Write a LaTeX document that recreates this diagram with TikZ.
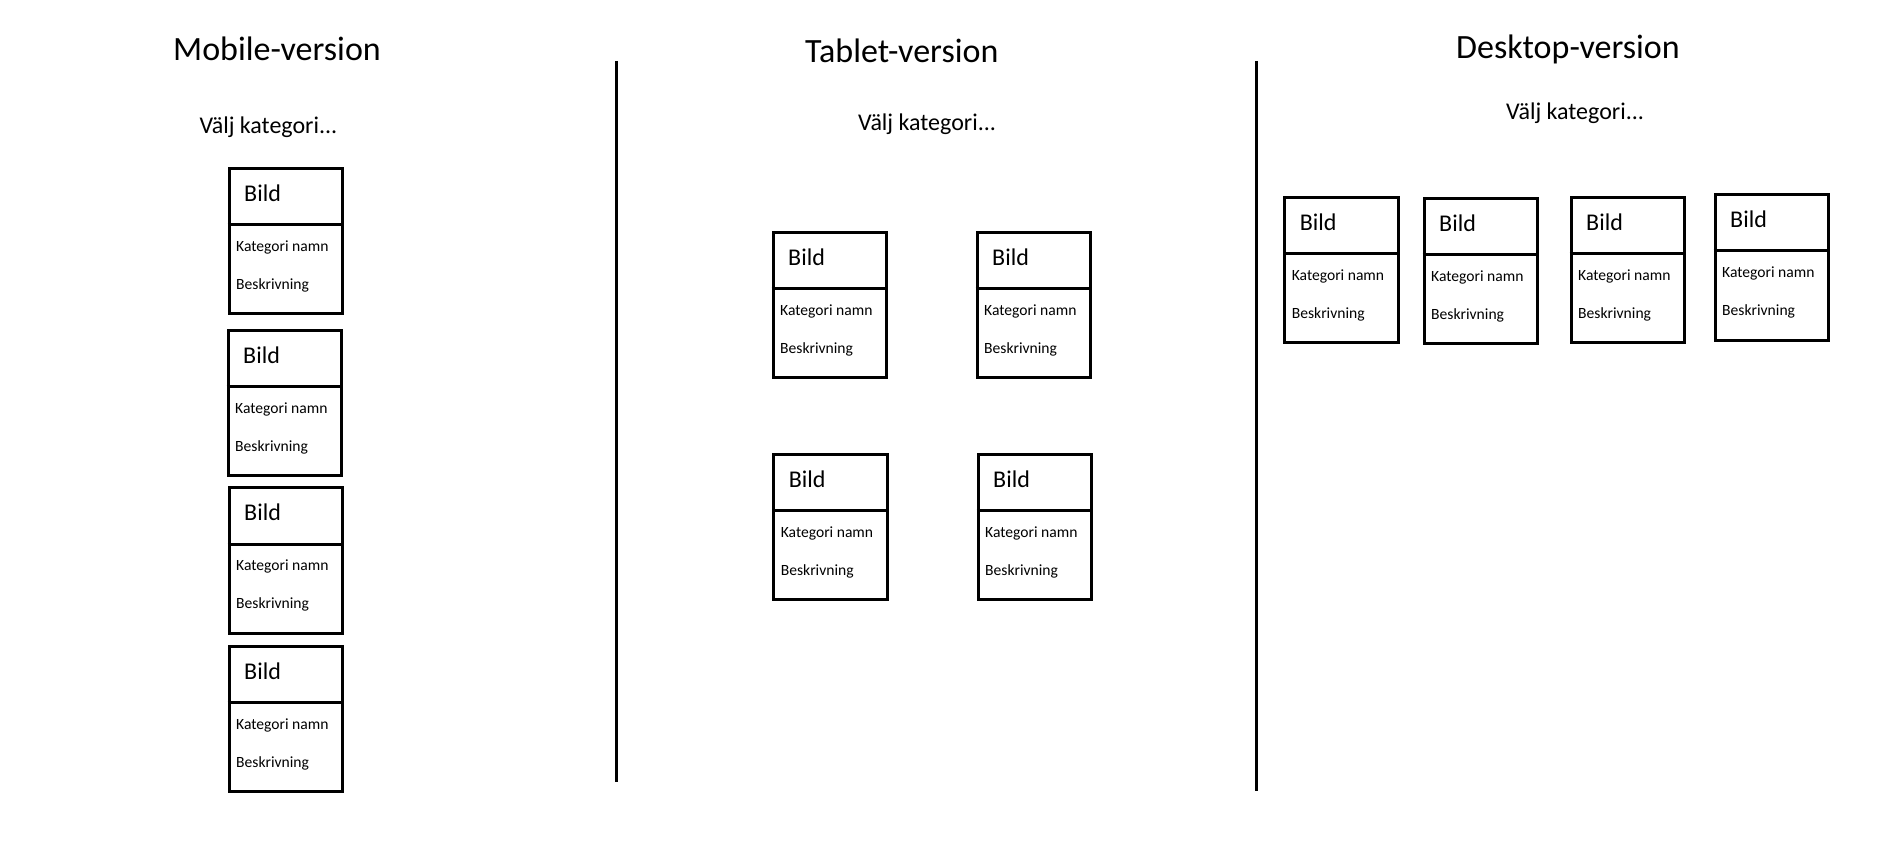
\documentclass[tikz,border=0pt]{standalone}
\usepackage{fontspec}
\setmainfont{Carlito}
\tikzset{
  card/.style={draw,line width=3pt,minimum width=113.6pt,minimum height=145.6pt,inner sep=0pt,anchor=north west},
  txt/.style={anchor=base west,inner sep=0pt},
  titletxt/.style={txt,font=\fontsize{34}{40}\selectfont},
  midtxt/.style={txt,font=\fontsize{24}{28}\selectfont},
  smalltxt/.style={txt,font=\fontsize{15.6}{18}\selectfont},
  sepline/.style={line width=3pt},
}
\newcommand\mycard[3]{%
  \node[card] (#1) at (#2,#3) {};
  \draw[sepline] ([yshift=-57.6pt]#1.north west) coordinate (#1dl) -- ([yshift=-57.6pt]#1.north east) coordinate (#1dr);
  \node[midtxt] (#1b) at ([xshift=16.3pt,yshift=-34.3pt]#1.north west) {Bild};
  \node[smalltxt] (#1k) at ([xshift=8.3pt,yshift=-84.3pt]#1.north west) {Kategori namn};
  \node[smalltxt] (#1s) at ([xshift=8.3pt,yshift=-122.4pt]#1.north west) {Beskrivning};
}
\begin{document}
\begin{tikzpicture}[x=1pt,y=-1pt]
\useasboundingbox[fill=white] (0,0) rectangle (1881,861);
% titles
\node[titletxt] (tm) at (173,61) {Mobile-version};
\node[titletxt] (tt) at (805,62.3) {Tablet-version};
\node[titletxt] (td) at (1456,58.3) {Desktop-version};
\node[midtxt] (vm) at (199.3,133.3) {Välj kategori.{}.{}.};
\node[midtxt] (vt) at (858,130.7) {Välj kategori.{}.{}.};
\node[midtxt] (vd) at (1506,120) {Välj kategori.{}.{}.};
% separators
\coordinate (s1t) at (616,61);
\coordinate (s1b) at (616,782);
\coordinate (s2t) at (1256,61);
\coordinate (s2b) at (1256,791);
\draw[sepline] (s1t) -- (s1b);
\draw[sepline] (s2t) -- (s2b);
% mobile
\mycard{m1}{227.7}{166.7}
\mycard{m2}{226.7}{328.7}
\mycard{m3}{227.7}{486.4}
\mycard{m4}{227.7}{644.7}
% tablet
\mycard{t1}{771.7}{230.7}
\mycard{t2}{975.7}{230.7}
\mycard{t3}{772.3}{452.7}
\mycard{t4}{976.7}{452.7}
% desktop
\mycard{d1}{1283.3}{195.7}
\mycard{d2}{1422.7}{196.7}
\mycard{d3}{1569.7}{195.7}
\mycard{d4}{1713.7}{193}
\end{tikzpicture}
\end{document}
